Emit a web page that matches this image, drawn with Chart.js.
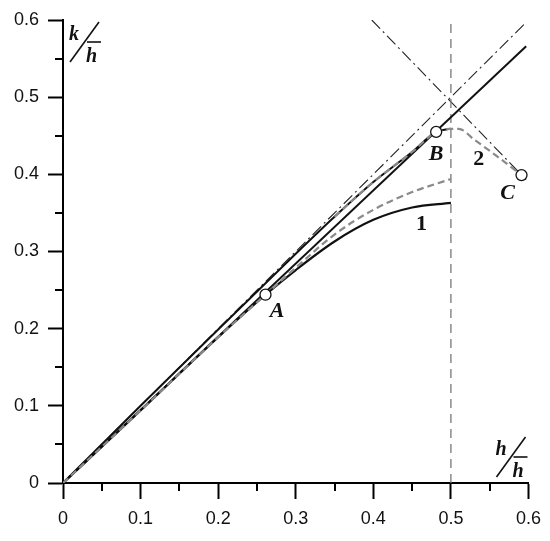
<!DOCTYPE html>
<html>
<head>
<meta charset="utf-8">
<script src="https://cdn.jsdelivr.net/npm/chart.js@4.4.0/dist/chart.umd.min.js"></script>
<style>
  body { margin: 0; background: #fff; }
  #wrap { width: 550px; height: 541px; }
</style>
</head>
<body>
<div id="wrap"><canvas id="chart"></canvas></div>
<script>
// reference lines
const diagX = [0, 0.595];
const diagY = [0, 0.595];
const crossX = [0.398, 0.597];
const crossY = [0.6, 0.393];
const limitX = [0.5, 0.5];
const limitY = [0, 0.6];
const rayX = [0, 0.597];
const rayY = [0, 0.566];

// curve 1 (exact / approximate)
const curve1X = [0, 0.1, 0.2, 0.261, 0.3, 0.35, 0.4, 0.45, 0.5];
const curve1Y = [0, 0.094, 0.189, 0.244, 0.276, 0.313, 0.341, 0.357, 0.363];
const approx1X = [0, 0.1, 0.2, 0.261, 0.3, 0.35, 0.4, 0.45, 0.5];
const approx1Y = [0, 0.094, 0.189, 0.244, 0.279, 0.322, 0.354, 0.377, 0.394];

// curve 2 (exact / approximate)
const curve2X = [0, 0.1, 0.2, 0.3, 0.35, 0.4, 0.45, 0.481, 0.5];
const curve2Y = [0, 0.1, 0.199, 0.297, 0.345, 0.39, 0.429, 0.455, 0.459];
const approx2X = [0.35, 0.4, 0.45, 0.481, 0.5, 0.51, 0.53, 0.56, 0.591];
const approx2Y = [0.345, 0.39, 0.429, 0.455, 0.459, 0.459, 0.445, 0.423, 0.399];

// marked points
const markX = [0.261, 0.481, 0.591];
const markY = [0.244, 0.455, 0.399];

// text labels (data units)
const labelText = ['A', 'B', 'C', '1', '2'];
const labelX = [0.276, 0.481, 0.573, 0.462, 0.536];
const labelY = [0.222, 0.426, 0.375, 0.335, 0.419];

const minorTicks = [0.05, 0.15, 0.25, 0.35, 0.45, 0.55];

const pts = (xs, ys) => xs.map((x, i) => ({ x: x, y: ys[i] }));
const fmt = v => v === 0 ? '0' : v.toFixed(1);

const GRAY = '#8a8a8a';

const extras = {
  id: 'extras',
  afterDraw(chart) {
    const ctx = chart.ctx;
    const xs = chart.scales.x, ys = chart.scales.y;
    const a = chart.chartArea;
    ctx.save();
    // minor ticks
    ctx.strokeStyle = '#000';
    ctx.lineWidth = 2;
    minorTicks.forEach(v => {
      const px = Math.round(xs.getPixelForValue(v));
      ctx.beginPath(); ctx.moveTo(px, a.bottom); ctx.lineTo(px, a.bottom + 8); ctx.stroke();
      const py = Math.round(ys.getPixelForValue(v));
      ctx.beginPath(); ctx.moveTo(a.left, py); ctx.lineTo(a.left - 8, py); ctx.stroke();
    });

    // point labels
    ctx.fillStyle = '#111';
    ctx.textAlign = 'center';
    ctx.textBaseline = 'middle';
    labelText.forEach((t, i) => {
      const isLetter = /[A-Z]/.test(t);
      ctx.font = (isLetter ? 'italic ' : '') + 'bold 22px "Liberation Serif", "Times New Roman", serif';
      ctx.fillText(t, xs.getPixelForValue(labelX[i]), ys.getPixelForValue(labelY[i]));
    });

    // axis titles: k / h-bar and h / h-bar
    ctx.lineWidth = 1.6;
    ctx.strokeStyle = '#111';
    ctx.textAlign = 'left';
    ctx.textBaseline = 'alphabetic';
    ctx.font = 'italic bold 20px "Liberation Serif", "Times New Roman", serif';
    function frac(num, x0, y0) {
      ctx.fillText(num, x0, y0 + 18);
      ctx.beginPath(); ctx.moveTo(x0 + 30, y0); ctx.lineTo(x0 + 1, y0 + 40); ctx.stroke();
      ctx.beginPath(); ctx.moveTo(x0 + 18, y0 + 20); ctx.lineTo(x0 + 32, y0 + 20); ctx.stroke();
      ctx.fillText('h', x0 + 17, y0 + 40);
    }
    frac('k', a.left + 6, a.top + 2);
    frac('h', a.right - 33, a.bottom - 46);
    ctx.restore();
  }
};

new Chart(document.getElementById('chart'), {
  type: 'scatter',
  data: {
    datasets: [
      { data: pts(markX, markY), showLine: false, pointRadius: 5.5, pointBackgroundColor: '#fff',
        pointBorderColor: '#111', pointBorderWidth: 1.3 },
      { data: pts(approx2X, approx2Y), showLine: true, borderColor: GRAY, borderWidth: 2.2,
        borderDash: [7, 4], pointRadius: 0, cubicInterpolationMode: 'monotone' },
      { data: pts(approx1X, approx1Y), showLine: true, borderColor: GRAY, borderWidth: 2.2,
        borderDash: [7, 4], pointRadius: 0, cubicInterpolationMode: 'monotone' },
      { data: pts(curve1X, curve1Y), showLine: true, borderColor: '#111', borderWidth: 2.2,
        pointRadius: 0, cubicInterpolationMode: 'monotone' },
      { data: pts(curve2X, curve2Y), showLine: true, borderColor: '#111', borderWidth: 2,
        pointRadius: 0, cubicInterpolationMode: 'monotone' },
      { data: pts(rayX, rayY), showLine: true, borderColor: '#111', borderWidth: 2, pointRadius: 0 },
      { data: pts(limitX, limitY), showLine: true, borderColor: '#777', borderWidth: 1.3,
        borderDash: [9, 6], pointRadius: 0 },
      { data: pts(diagX, diagY), showLine: true, borderColor: '#222', borderWidth: 1.1,
        borderDash: [12, 4, 2, 4], pointRadius: 0 },
      { data: pts(crossX, crossY), showLine: true, borderColor: '#222', borderWidth: 1.1,
        borderDash: [12, 4, 2, 4], pointRadius: 0 }
    ]
  },
  options: {
    responsive: true,
    maintainAspectRatio: false,
    animation: false,
    layout: { padding: { top: 20, right: 20, left: 0, bottom: 0 } },
    plugins: { legend: { display: false }, tooltip: { enabled: false } },
    scales: {
      x: {
        type: 'linear', min: 0, max: 0.6,
        afterFit: s => { s.height = 58; },
        border: { display: true, color: '#000', width: 2 },
        grid: { drawOnChartArea: false, tickLength: 16, tickWidth: 2, tickColor: '#000' },
        ticks: { stepSize: 0.1, padding: 9, color: '#111', maxRotation: 0,
          font: { family: '"Liberation Sans", Arial, sans-serif', size: 18 },
          callback: v => fmt(v) }
      },
      y: {
        type: 'linear', min: 0, max: 0.6,
        afterFit: s => { s.width = 63; },
        border: { display: true, color: '#000', width: 2 },
        grid: { drawOnChartArea: false, tickLength: 15, tickWidth: 2, tickColor: '#000' },
        ticks: { stepSize: 0.1, padding: 9, color: '#111',
          font: { family: '"Liberation Sans", Arial, sans-serif', size: 18 },
          callback: v => fmt(v) }
      }
    }
  },
  plugins: [extras]
});
</script>
</body>
</html>
